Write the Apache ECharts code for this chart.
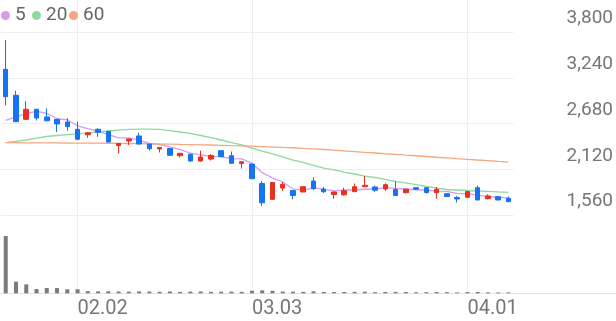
<!DOCTYPE html>
<html><head><meta charset="utf-8">
<script src="https://cdn.jsdelivr.net/npm/echarts@6/dist/echarts.min.js"></script>
<style>html,body{margin:0;padding:0;background:#fff}#c{width:616px;height:321px}</style>
</head><body><div id="c"></div>
<script>
const dates = ['01.22','01.23','01.26','01.27','01.28','01.29','01.30','02.02','02.03','02.04','02.05','02.06','02.09','02.10','02.11','02.12','02.13','02.19','02.20','02.23','02.24','02.25','02.26','02.27','03.03','03.04','03.05','03.06','03.09','03.10','03.11','03.12','03.13','03.16','03.17','03.18','03.19','03.20','03.23','03.24','03.25','03.26','03.27','03.30','03.31','04.01','04.02','04.03','04.06','04.07'];
const openP  = [3343,3025,2731,2854,2760,2731,2698,2609,2543,2609,2584,2411,2466,2527,2429,2368,2374,2286,2304,2221,2245,2347,2286,2190,2184,1946,1752,1890,1860,1842,1976,1878,1811,1808,1845,1906,1903,1878,1872,1833,1894,1894,1833,1821,1774,1777,1894,1760,1784,1764];
const closeP = [3008,2702,2854,2747,2713,2674,2641,2487,2567,2572,2453,2435,2490,2429,2372,2386,2291,2315,2221,2270,2288,2274,2193,2212,2004,1709,1958,1936,1799,1906,1882,1845,1842,1857,1906,1923,1864,1931,1799,1875,1875,1835,1875,1786,1756,1848,1744,1793,1744,1723];
const lowP   = [2903,2698,2725,2717,2708,2576,2592,2480,2506,2518,2448,2313,2417,2425,2350,2325,2285,2264,2215,2215,2227,2270,2190,2129,2000,1670,1748,1854,1753,1838,1866,1829,1760,1796,1842,1903,1844,1857,1795,1826,1872,1821,1760,1782,1713,1774,1740,1752,1740,1718];
const highP  = [3702,3081,2955,2858,2864,2735,2745,2704,2570,2621,2590,2440,2495,2567,2432,2390,2380,2320,2310,2347,2307,2350,2337,2215,2190,1976,1962,1964,1862,1910,2021,1903,1845,1894,1946,2037,1919,1948,1968,1885,1898,1903,1903,1825,1793,1852,1921,1813,1790,1786];
const ma5  = [2719,2760,2800,2830,2805,2738,2726,2652,2616,2588,2544,2503,2503,2476,2436,2422,2394,2359,2317,2297,2277,2274,2249,2247,2194,2078,2015,1964,1881,1862,1896,1874,1855,1866,1866,1875,1878,1896,1885,1878,1869,1863,1852,1849,1825,1820,1802,1785,1777,1770];
const ma20 = [2447,2460,2478,2502,2521,2533,2543,2551,2564,2576,2588,2600,2607,2610,2610,2607,2594,2576,2558,2533,2506,2478,2447,2417,2380,2343,2307,2270,2233,2203,2166,2135,2111,2086,2062,2037,2019,1995,1970,1952,1933,1909,1890,1872,1866,1860,1854,1848,1842,1838];
const ma60 = [2445,2445,2444,2444,2442,2442,2441,2441,2440,2439,2438,2436,2435,2434,2432,2429,2427,2424,2422,2419,2417,2413,2409,2406,2402,2397,2392,2387,2383,2376,2370,2362,2353,2345,2336,2327,2319,2310,2302,2293,2285,2276,2267,2259,2250,2242,2233,2225,2216,2208];
const volume = [51200000,10400000,8000000,3800000,4700000,4700000,3600000,3600000,1900000,1700000,1800000,1600000,1500000,1700000,1600000,1400000,1600000,1300000,1500000,1600000,1300000,1400000,1500000,1300000,2300000,2700000,2200000,1500000,1400000,1300000,1800000,1200000,1100000,1200000,1300000,1400000,1000000,1200000,1300000,1100000,900000,1000000,1200000,1000000,800000,1100000,1200000,800000,700000,800000];
const xTickLabels = ['02.02','03.03','04.01'];
const maNames = ['5','20','60'];

const UP = '#e8321e', DOWN = '#1673f2';
const MA_COLORS = ['#d59cf2','#8fd9a2','#f5a77f'];
const GRID_C = '#eeeeee';
const FONT = 'Roboto';

const showTick = (i) => xTickLabels.indexOf(dates[i]) >= 0;
const candles = dates.map((d, i) => [openP[i], closeP[i], lowP[i], highP[i]]);

const chart = echarts.init(document.getElementById('c'));
const legendBase = {icon:'circle', itemWidth:9, itemHeight:9, padding:0, top:6,
  textStyle:{color:'#666', fontSize:19, fontFamily:FONT}};
chart.setOption({
  animation:false,
  legend:[
    Object.assign({data:[maNames[0]], left:1}, legendBase),
    Object.assign({data:[maNames[1]], left:32}, legendBase),
    Object.assign({data:[maNames[2]], left:69}, legendBase)
  ],
  grid:[
    {left:0.6, right:102.4, top:0, bottom:106},
    {left:0.6, right:102.4, top:215, bottom:27.7}
  ],
  xAxis:[
    {type:'category', gridIndex:0, data:dates, boundaryGap:true,
     axisLine:{show:false}, axisTick:{show:false}, axisLabel:{show:false},
     splitLine:{show:true, interval:showTick, alignWithLabel:true, lineStyle:{color:GRID_C, width:1}}},
    {type:'category', gridIndex:1, data:dates, boundaryGap:true,
     axisLine:{show:false}, axisTick:{show:false},
     axisLabel:{show:true, interval:showTick, align:'left', margin:6, color:'#777', fontSize:20, fontFamily:FONT},
     splitLine:{show:true, interval:showTick, alignWithLabel:true, lineStyle:{color:GRID_C, width:1}}}
  ],
  yAxis:[
    {type:'value', gridIndex:0, position:'right', min:1560, max:4191.7, interval:560,
     axisLine:{show:false}, axisTick:{show:false},
     splitLine:{show:true, showMaxLine:false, lineStyle:{color:GRID_C, width:1}},
     axisLabel:{showMaxLabel:false, align:'right', margin:99.5, verticalAlign:'bottom', padding:[0,0,4,0],
       color:'#777', fontSize:19, fontFamily:FONT, formatter:(v)=>Math.round(v).toLocaleString('en-US')}},
    {type:'value', gridIndex:1, min:0, max:70000000, show:false, splitLine:{show:false}}
  ],
  graphic:[
    {type:'line', shape:{x1:0, y1:293.5, x2:616, y2:293.5}, style:{stroke:'#e2e2e2', lineWidth:1}, silent:true}
  ],
  series:[
    {name:maNames[0], type:'line', data:ma5, symbol:'none', z:1, lineStyle:{color:MA_COLORS[0], width:1.3}, itemStyle:{color:MA_COLORS[0]}},
    {name:maNames[1], type:'line', data:ma20, symbol:'none', z:1, lineStyle:{color:MA_COLORS[1], width:1.3}, itemStyle:{color:MA_COLORS[1]}},
    {name:maNames[2], type:'line', data:ma60, symbol:'none', z:1, lineStyle:{color:MA_COLORS[2], width:1.3}, itemStyle:{color:MA_COLORS[2]}},
    {name:'price', type:'candlestick', data:candles, barWidth:5, z:3,
     itemStyle:{color:UP, color0:DOWN, borderColor:UP, borderColor0:DOWN, borderWidth:1}},
    {name:'volume', type:'bar', xAxisIndex:1, yAxisIndex:1, data:volume, barWidth:4,
     itemStyle:{color:'#7b7b7b'}}
  ]
});
</script>
</body></html>
